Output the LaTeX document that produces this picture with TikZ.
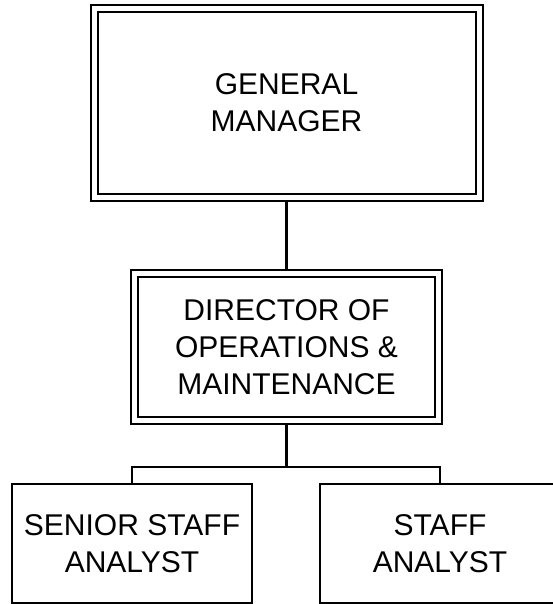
\documentclass[tikz,border=0pt]{standalone}
\usepackage{fontspec}
\setmainfont{Liberation Sans}
\usepackage{tikz}
\usetikzlibrary{positioning,backgrounds}

\begin{document}
\begin{tikzpicture}[x=1pt, y=-1pt,
  every node/.style={font=\fontsize{30}{37}\selectfont, align=center, inner sep=0pt},
  dblbox/.style={draw=black, line width=2pt, double=white, double distance=5pt, fill=white},
  staffbox/.style={draw=black, line width=2pt, fill=white, minimum width=240pt, minimum height=119pt},
  link/.style={draw=black, line width=2.5pt}]
\useasboundingbox (0,0) rectangle (553,604);
\node[dblbox, minimum width=385pt, minimum height=189pt] (gm) at (286.5,103) {GENERAL\\MANAGER};
\node[dblbox, minimum width=304pt, minimum height=147pt] (dom) at (286.5,347) {DIRECTOR OF\\OPERATIONS \&\\MAINTENANCE};
\node[staffbox] (ssa) at (132,543.5) {SENIOR STAFF\\ANALYST};
\node[staffbox] (sa) at (440,543.5) {STAFF\\ANALYST};
\coordinate (split) at (286.5,467);
\begin{scope}[on background layer]
\draw[link] (gm.south) -- (dom.north);
\draw[link] (dom.south) -- (split);
\draw[link] (ssa.north) |- (split) -| (sa.north);
\end{scope}
\end{tikzpicture}
\end{document}
